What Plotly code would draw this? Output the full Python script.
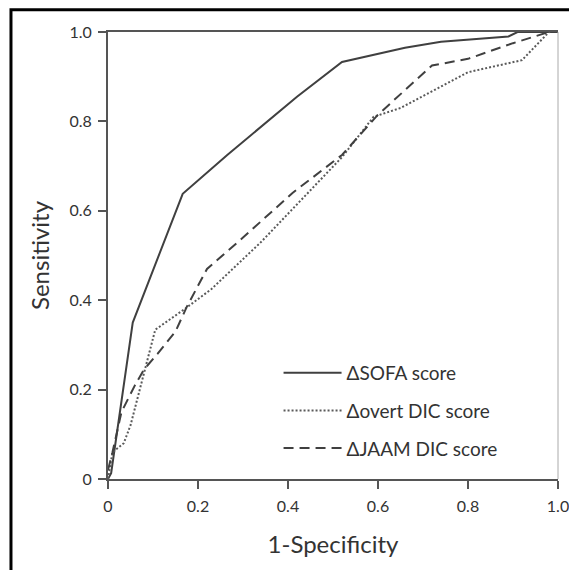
import plotly.graph_objects as go

# ROC curve data (1-Specificity, Sensitivity)
sofa_x = [0, 0.007, 0.055, 0.166, 0.265, 0.42, 0.52, 0.66, 0.74, 0.89, 0.91, 1.0]
sofa_y = [0, 0.013, 0.35, 0.638, 0.725, 0.855, 0.933, 0.965, 0.978, 0.99, 1.0, 1.0]

overt_x = [0, 0.01, 0.035, 0.05, 0.105, 0.17, 0.23, 0.34, 0.43, 0.52, 0.59, 0.65, 0.8, 0.92, 0.98, 1.0]
overt_y = [0, 0.06, 0.08, 0.12, 0.334, 0.38, 0.425, 0.53, 0.625, 0.72, 0.81, 0.83, 0.91, 0.937, 1.0, 1.0]

jaam_x = [0, 0.01, 0.03, 0.06, 0.08, 0.11, 0.15, 0.175, 0.22, 0.3, 0.41, 0.52, 0.6, 0.72, 0.8, 0.9, 0.98, 1.0]
jaam_y = [0.02, 0.06, 0.15, 0.21, 0.245, 0.28, 0.33, 0.385, 0.47, 0.54, 0.64, 0.725, 0.815, 0.925, 0.94, 0.975, 1.0, 1.0]

series_names = ["ΔSOFA score", "Δovert DIC score", "ΔJAAM DIC score"]
tick_vals = [0, 0.2, 0.4, 0.6, 0.8, 1.0]
tick_text = ["0", "0.2", "0.4", "0.6", "0.8", "1.0"]

FONT = "Lato"

fig = go.Figure()
fig.add_trace(go.Scatter(x=sofa_x, y=sofa_y, mode="lines", name=series_names[0],
                         legendgroup="a",
                         line=dict(color="#404040", width=2)))
fig.add_trace(go.Scatter(x=overt_x, y=overt_y, mode="lines", name=series_names[1],
                         legendgroup="b",
                         line=dict(color="#5a5a5a", width=2, dash="2px,2px")))
fig.add_trace(go.Scatter(x=jaam_x, y=jaam_y, mode="lines", name=series_names[2],
                         legendgroup="c",
                         line=dict(color="#404040", width=2, dash="10px,6px")))

fig.update_layout(
    width=569, height=570,
    margin=dict(l=108, r=11, t=32, b=91, autoexpand=False),
    paper_bgcolor="white", plot_bgcolor="white",
    font=dict(family=FONT, color="#333333"),
    showlegend=True,
    legend=dict(x=0.379, y=0.28, xanchor="left", yanchor="top",
                bgcolor="rgba(0,0,0,0)", font=dict(size=19, color="#333333"),
                tracegroupgap=10, itemwidth=58),
    xaxis=dict(range=[0, 1], tickvals=tick_vals, ticktext=tick_text,
               showgrid=False, zeroline=False, showline=True, linecolor="#555555",
               linewidth=2, mirror=True, ticks="outside", ticklen=8, tickwidth=2,
               tickcolor="#555555", tickfont=dict(size=16, color="#333333"),
               ticklabeloverflow="allow", ticklabelstandoff=4,
               title=dict(text="1-Specificity", font=dict(size=24, color="#333333"),
                          standoff=22)),
    yaxis=dict(range=[0, 1], tickvals=tick_vals, ticktext=tick_text,
               showgrid=False, zeroline=False, showline=True, linecolor="#555555",
               linewidth=2, ticks="outside", ticklen=8, tickwidth=2,
               tickcolor="#555555", tickfont=dict(size=16, color="#333333"),
               ticklabelstandoff=3,
               title=dict(text="Sensitivity", font=dict(size=24, color="#333333"),
                          standoff=13)),
    shapes=[
        dict(type="line", xref="paper", yref="paper", x0=1, x1=1, y0=0, y1=1,
             line=dict(color="#aaaaaa", width=1)),
        dict(type="rect", xref="paper", yref="paper", x0=-0.2156, x1=2.0,
             y0=-1.0, y1=1.05, line=dict(color="black", width=3)),
    ],
)

# remove the default 8px page margin so the figure fills the window exactly
fig.write_html("out.html",
               config={"displayModeBar": False},
               post_script="document.body.style.margin='0';document.body.style.overflow='hidden';")
